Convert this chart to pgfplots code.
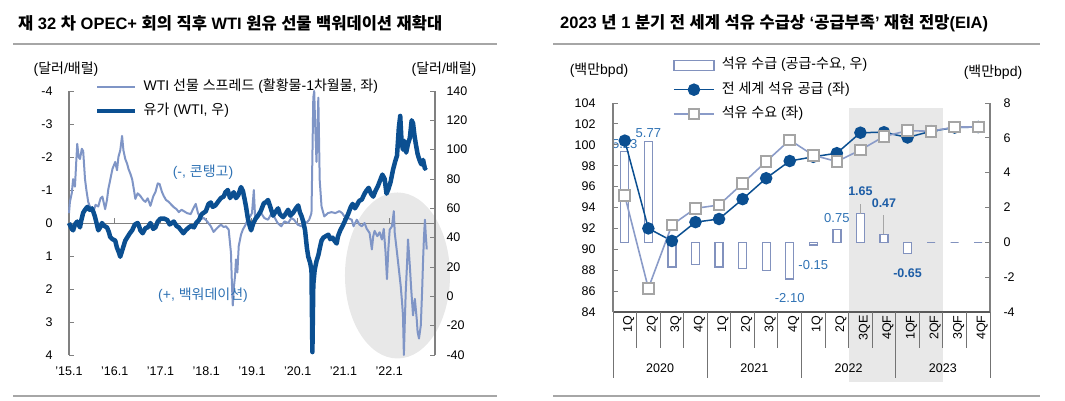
\documentclass[border=0pt]{standalone}
\usepackage{fontspec}
\setmainfont{Liberation Sans}
\newfontfamily\kr{Noto Sans CJK KR}
% Hangul syllables switch to the Korean font automatically
\XeTeXinterchartokenstate=1
\newXeTeXintercharclass\hangulclass
\count255="AC00
\loop
  \XeTeXcharclass\count255=\hangulclass
  \advance\count255 by 1
\ifnum\count255<"D7A4 \repeat
\XeTeXinterchartoks 0 \hangulclass = {\begingroup\kr}
\XeTeXinterchartoks 4095 \hangulclass = {\begingroup\kr}
\XeTeXinterchartoks \hangulclass 0 = {\endgroup}
\XeTeXinterchartoks \hangulclass 4095 = {\endgroup}
\usepackage{pgfplots}
\pgfplotsset{compat=1.18}

\definecolor{spread}{HTML}{7F95C6}
\definecolor{wti}{HTML}{0B4F91}
\definecolor{note}{HTML}{2F72B4}
\definecolor{noteb}{HTML}{1D5DA6}
\definecolor{spine}{HTML}{808080}
\definecolor{rulec}{HTML}{A6A6A6}
\definecolor{bgshade}{HTML}{E8E8E8}
\definecolor{barc}{HTML}{8292BE}
\definecolor{demandline}{HTML}{8A9BC8}
\definecolor{sqc}{HTML}{A5A5A5}

\pgfplotsset{
  base/.style={scale only axis, clip=false, anchor=south west,
    tick align=inside, major tick length=5pt,
    every tick/.style={spine, line width=1pt},
    axis line style={spine, line width=1.2pt},
    tick label style={font=\fontsize{12.5}{14}\selectfont},
    /pgf/number format/assume math mode=true},
}

\begin{document}
\begin{tikzpicture}[x=1pt,y=1pt]
\path[use as bounding box] (0,0) rectangle (1065,400);

% titles and rules
\node[anchor=west, inner sep=0pt, font=\bfseries\fontsize{16.5}{19}\selectfont] at (18,377) {재 32 차 OPEC+ 회의 직후 WTI 원유 선물 백워데이션 재확대};
\node[anchor=west, inner sep=0pt, font=\bfseries\fontsize{16.5}{19}\selectfont] at (560,377) {2023 년 1 분기 전 세계 석유 수급상 ‘공급부족’ 재현 전망(EIA)};
\draw[rulec, line width=2pt] (13,356) -- (497,356);
\draw[rulec, line width=2pt] (13,4) -- (497,4);
\draw[rulec, line width=2pt] (553,356) -- (1040,356);
\draw[rulec, line width=2pt] (553,4) -- (1040,4);

% ---------- left panel ----------
\begin{axis}[base, at={(69pt,45pt)}, width=366pt, height=264pt,
  xmin=2015, xmax=2023, ymin=-4, ymax=4, y dir=reverse,
  axis x line=none, axis y line*=left,
  ytick={-4,-3,...,4}, yticklabel style={xshift=-13pt},
  legend style={at={(axis description cs:0.071,1.04)}, anchor=north west,
    draw=none, fill=none, inner sep=0pt, row sep=11pt, column sep=6pt,
    font=\fontsize{14}{16}\selectfont,
    nodes={inner sep=0pt, text height=10pt, text depth=3pt}},
  legend cell align=left,
  legend image code/.code={\draw[#1] (0pt,0pt) -- (38pt,0pt);},
]
\fill[bgshade] (axis cs:2022.18,1.59) ellipse [x radius=52.5pt, y radius=83pt];
\draw[spine, line width=1pt] (axis cs:2015,0) -- (axis cs:2023,0);
\pgfplotsinvokeforeach{2016,2017,2018,2019,2020,2021,2022}{
  \draw[spine, line width=1pt] (axis cs:#1,0) -- ([yshift=5pt]axis cs:#1,0);}
\addplot[spread, line width=2pt, line join=round] coordinates {
(2015.00,-0.30) (2015.02,-0.64) (2015.06,-0.9) (2015.09,-1.33) (2015.13,-1.1) (2015.16,-1.9)
(2015.18,-2.4) (2015.21,-2.0) (2015.24,-1.94) (2015.28,-2.25) (2015.31,-2.18) (2015.35,-1.33)
(2015.38,-1.0) (2015.42,-0.64) (2015.47,-0.45) (2015.53,-0.33) (2015.58,-0.55) (2015.64,-0.5)
(2015.69,-0.75) (2015.73,-0.8) (2015.79,-0.42) (2015.83,-0.7) (2015.86,-1.03) (2015.90,-1.3)
(2015.95,-1.64) (2016.01,-1.85) (2016.05,-1.6) (2016.08,-2.0) (2016.12,-2.2) (2016.16,-2.64)
(2016.19,-2.2) (2016.23,-1.94) (2016.27,-1.8) (2016.30,-1.64) (2016.34,-1.5) (2016.38,-1.33)
(2016.42,-1.0) (2016.45,-0.73) (2016.50,-0.9) (2016.56,-0.82) (2016.62,-0.7) (2016.67,-0.64)
(2016.72,-0.75) (2016.78,-0.52) (2016.84,-0.8) (2016.89,-0.94) (2016.94,-1.2) (2016.98,-1.18)
(2017.03,-0.95) (2017.07,-0.82) (2017.12,-0.7) (2017.18,-0.64) (2017.24,-0.55) (2017.29,-0.48)
(2017.35,-0.42) (2017.40,-0.33) (2017.46,-0.4) (2017.51,-0.36) (2017.58,-0.3) (2017.66,-0.27)
(2017.72,-0.45) (2017.77,-0.58) (2017.82,-0.3) (2017.88,-0.12) (2017.95,-0.15) (2018.03,-0.03)
(2018.10,0.1) (2018.16,0.27) (2018.24,0.15) (2018.32,0.05) (2018.38,0.12) (2018.43,0.1)
(2018.49,0.2) (2018.54,0.9) (2018.56,1.8) (2018.58,2.5) (2018.60,2.0) (2018.63,1.6)
(2018.65,1.1) (2018.68,1.5) (2018.71,0.7) (2018.76,0.35) (2018.80,0.2) (2018.86,0.05)
(2018.91,-0.12) (2018.96,-0.2) (2019.00,-0.3) (2019.04,-1.0) (2019.07,-0.1) (2019.13,-0.25)
(2019.20,-0.3) (2019.27,-0.15) (2019.35,-0.1) (2019.41,-0.25) (2019.48,-0.2) (2019.56,0.0)
(2019.64,0.1) (2019.71,-0.05) (2019.79,0.0) (2019.86,-0.15) (2019.92,-0.1) (2020.00,0.05)
(2020.08,0.1) (2020.14,-0.05) (2020.19,0.0) (2020.25,-0.1) (2020.30,-0.3) (2020.32,-2.0)
(2020.34,-3.8) (2020.36,-4.0) (2020.38,-3.0) (2020.41,-1.85) (2020.43,-2.8) (2020.45,-3.8)
(2020.48,-1.3) (2020.52,-0.5) (2020.58,-0.2) (2020.66,-0.3) (2020.74,-0.33) (2020.82,-0.3)
(2020.91,-0.36) (2020.97,-0.3) (2021.02,-0.2) (2021.10,-0.15) (2021.18,-0.1) (2021.22,0.1)
(2021.29,-0.1) (2021.35,0.05) (2021.40,0.1) (2021.46,0.0) (2021.51,0.18) (2021.57,0.3)
(2021.62,0.8) (2021.65,0.4) (2021.68,0.24) (2021.74,0.4) (2021.79,0.28) (2021.84,0.5)
(2021.88,0.18) (2021.92,0.9) (2021.95,1.7) (2021.98,0.8) (2022.01,0.2) (2022.06,0.1)
(2022.10,-0.36) (2022.12,0.3) (2022.17,0.9) (2022.21,1.4) (2022.25,1.9) (2022.28,2.4)
(2022.30,2.8) (2022.32,4.0) (2022.34,3.0) (2022.36,2.1) (2022.39,1.2) (2022.41,0.5)
(2022.45,1.3) (2022.48,2.0) (2022.52,2.8) (2022.56,2.3) (2022.60,2.9) (2022.62,3.3)
(2022.65,3.5) (2022.69,3.1) (2022.72,2.0) (2022.74,1.1) (2022.76,0.4) (2022.78,-0.1)
(2022.80,0.4) (2022.82,0.8)};
\addlegendentry{WTI 선물 스프레드 (활황물-1차월물, 좌)}
\addlegendimage{wti, line width=4.5pt}
\addlegendentry{유가 (WTI, 우)}
\end{axis}

\begin{axis}[base, at={(69pt,45pt)}, width=366pt, height=264pt,
  xmin=2015, xmax=2023, ymin=-40, ymax=140,
  axis y line*=right, axis x line*=bottom, x axis line style={draw=none},
  xtick={2015,...,2022},
  xticklabels={'15.1,'16.1,'17.1,'18.1,'19.1,'20.1,'21.1,'22.1},
  x tick style={draw=none}, xticklabel style={yshift=-8pt},
  ytick={-40,-20,...,140}, yticklabel style={xshift=8pt},
]
\addplot[wti, line width=4.5pt, line join=round] coordinates {
(2015.00,50) (2015.03,48) (2015.06,46) (2015.09,45) (2015.13,49) (2015.18,51) (2015.21,49)
(2015.24,47) (2015.27,52) (2015.31,57) (2015.35,59) (2015.40,61) (2015.45,59) (2015.50,60)
(2015.54,57) (2015.57,54) (2015.61,49) (2015.64,45) (2015.68,47) (2015.72,50) (2015.77,48)
(2015.83,47) (2015.87,44) (2015.90,40.5) (2015.95,39) (2016.01,38) (2016.05,33) (2016.09,30)
(2016.12,27) (2016.16,31) (2016.19,34) (2016.23,38) (2016.28,40.5) (2016.33,43) (2016.38,45)
(2016.44,49) (2016.50,50) (2016.53,48) (2016.56,45) (2016.61,43) (2016.67,46.5) (2016.72,47)
(2016.78,50) (2016.84,46) (2016.89,47) (2016.94,51) (2017.00,53) (2017.08,53) (2017.15,52)
(2017.20,49) (2017.25,50) (2017.29,51) (2017.35,48) (2017.40,47) (2017.45,45) (2017.50,43)
(2017.55,45) (2017.62,47) (2017.67,48) (2017.73,47) (2017.78,50) (2017.84,52) (2017.90,56)
(2017.99,58) (2018.05,63) (2018.10,64) (2018.14,61) (2018.20,62) (2018.27,65) (2018.32,67)
(2018.38,68) (2018.42,71) (2018.47,72.5) (2018.52,67) (2018.56,69) (2018.60,71) (2018.65,67)
(2018.70,69) (2018.76,74.5) (2018.80,72) (2018.84,66) (2018.87,61) (2018.91,53) (2018.95,48)
(2018.98,45) (2019.03,50) (2019.08,53) (2019.13,55) (2019.19,58) (2019.26,63.6) (2019.30,64)
(2019.35,65.7) (2019.40,61) (2019.46,55) (2019.50,57) (2019.57,60) (2019.61,56) (2019.68,54)
(2019.73,56) (2019.79,59) (2019.84,55) (2019.90,57) (2019.96,60) (2020.01,62) (2020.05,57)
(2020.08,55) (2020.12,51) (2020.16,45) (2020.20,33) (2020.23,27) (2020.27,23) (2020.30,18)
(2020.32,-38) (2020.34,8) (2020.37,18) (2020.41,24) (2020.45,28) (2020.49,34) (2020.52,38)
(2020.56,40) (2020.61,41) (2020.67,42) (2020.71,39) (2020.76,40) (2020.80,38) (2020.85,36)
(2020.88,41) (2020.93,45) (2020.98,48) (2021.04,52) (2021.10,56) (2021.16,61) (2021.20,63)
(2021.25,60) (2021.29,62) (2021.34,65) (2021.40,66) (2021.46,70) (2021.50,72) (2021.55,74)
(2021.60,70) (2021.65,68) (2021.70,72) (2021.75,75) (2021.80,79) (2021.85,83) (2021.90,80)
(2021.94,70) (2021.98,73) (2022.03,78) (2022.08,86) (2022.13,92) (2022.17,96) (2022.21,115)
(2022.24,123) (2022.27,105) (2022.30,100) (2022.33,106) (2022.37,98) (2022.41,104)
(2022.45,108) (2022.49,120) (2022.52,118) (2022.55,110) (2022.58,104) (2022.62,97)
(2022.66,93) (2022.70,90) (2022.74,93) (2022.78,87) (2022.80,88)};
\end{axis}

\node[note, font=\fontsize{14}{16}\selectfont] at (203,228) {(-, 콘탱고)};
\node[note, font=\fontsize{14}{16}\selectfont] at (203,105) {(+, 백워데이션)};
\node[font=\fontsize{14}{16}\selectfont] at (66,331) {(달러/배럴)};
\node[font=\fontsize{14}{16}\selectfont] at (444,331) {(달러/배럴)};

% ---------- right panel ----------
\begin{axis}[base, at={(613pt,88pt)}, width=377pt, height=209pt,
  xmin=-0.5, xmax=15.5, ymin=-4, ymax=8,
  axis x line=none, axis y line*=right,
  ytick={-4,-2,...,8}, yticklabel style={xshift=10pt},
  ybar, bar width=8pt,
]
\fill[bgshade] (axis cs:9.5,7.69) rectangle (axis cs:13.5,-8.04);
\addplot[draw=barc, fill=white, line width=1.3pt] coordinates {
(0,5.23) (1,5.77) (2,-1.42) (3,-1.28) (4,-1.42) (5,-1.5) (6,-1.63) (7,-2.10)
(8,-0.15) (9,0.75) (10,1.65) (11,0.47) (12,-0.65) (13,0) (14,0) (15,0)};
\node[note, font=\fontsize{13}{15}\selectfont] at ([yshift=7pt]axis cs:0,5.23) {5.23};
\node[note, font=\fontsize{13}{15}\selectfont] at ([yshift=9pt]axis cs:1,5.77) {5.77};
\node[note, font=\fontsize{13}{15}\selectfont] at ([yshift=-19pt]axis cs:7,-2.10) {-2.10};
\node[note, font=\fontsize{13}{15}\selectfont] at ([yshift=-20pt]axis cs:8,-0.15) {-0.15};
\node[note, font=\fontsize{13}{15}\selectfont] at ([yshift=11pt]axis cs:9,0.75) {0.75};
\draw[gray!70, line width=1pt] (axis cs:10,1.65) -- ([yshift=10pt]axis cs:10,1.65);
\node[noteb, font=\bfseries\fontsize{12.5}{15}\selectfont] at ([yshift=22pt]axis cs:10,1.65) {1.65};
\draw[gray!70, line width=1pt] (axis cs:11,0.47) -- ([yshift=19pt]axis cs:11,0.47);
\node[noteb, font=\bfseries\fontsize{12.5}{15}\selectfont] at ([yshift=31pt]axis cs:11,0.47) {0.47};
\node[noteb, font=\bfseries\fontsize{12.5}{15}\selectfont] at ([yshift=-20pt]axis cs:12,-0.65) {-0.65};
\end{axis}

\begin{axis}[base, at={(613pt,88pt)}, width=377pt, height=209pt,
  xmin=-0.5, xmax=15.5, ymin=84, ymax=104,
  axis y line*=left, axis x line*=bottom,
  x axis line style={black!65, line width=1.2pt},
  xtick={0,...,15},
  xticklabels={1Q,2Q,3Q,4Q,1Q,2Q,3Q,4Q,1Q,2Q,3QE,4QF,1QF,2QF,3QF,4QF},
  x tick style={draw=none},
  xticklabel style={rotate=90, anchor=east, yshift=-4pt},
  ytick={84,86,...,104}, yticklabel style={xshift=-14pt},
  legend style={at={(axis description cs:0.159,1.213)}, anchor=north west,
    draw=none, fill=none, inner sep=0pt, row sep=11.5pt, column sep=7pt,
    font=\fontsize{14}{16}\selectfont,
    nodes={inner sep=0pt, text height=10pt, text depth=3pt}},
  legend cell align=left,
  legend image code/.code={\draw[#1, mark indices={2}] plot coordinates {(0pt,0pt) (20pt,0pt) (40pt,0pt)};},
]
\pgfplotsinvokeforeach{0.5,1.5,2.5,4.5,5.5,6.5,8.5,9.5,10.5,12.5,13.5,14.5}{
  \draw[black!55, line width=1pt] (axis cs:#1,84) -- ([yshift=-36pt]axis cs:#1,84);}
\pgfplotsinvokeforeach{-0.5,3.5,7.5,11.5,15.5}{
  \draw[black!55, line width=1pt] (axis cs:#1,84) -- ([yshift=-66pt]axis cs:#1,84);}
\node[font=\fontsize{12.5}{14}\selectfont] at ([yshift=-56pt]axis cs:1.5,84) {2020};
\node[font=\fontsize{12.5}{14}\selectfont] at ([yshift=-56pt]axis cs:5.5,84) {2021};
\node[font=\fontsize{12.5}{14}\selectfont] at ([yshift=-56pt]axis cs:9.5,84) {2022};
\node[font=\fontsize{12.5}{14}\selectfont] at ([yshift=-56pt]axis cs:13.5,84) {2023};
\addlegendimage{legend image code/.code={\draw[barc, line width=1.3pt, fill=white] (0pt,-5pt) rectangle (40pt,5pt);}}
\addlegendentry{석유 수급 (공급-수요, 우)}
\addplot[wti, line width=1.5pt, mark=*, mark size=5.5pt, mark options={fill=wti, draw=wti}] coordinates {
(0,100.4) (1,92.0) (2,90.8) (3,92.6) (4,92.9) (5,94.8) (6,96.8) (7,98.45)
(8,98.85) (9,99.2) (10,101.16) (11,101.2) (12,100.7) (13,101.3) (14,101.65) (15,101.7)};
\addlegendentry{전 세계 석유 공급 (좌)}
\addplot[demandline, line width=1.6pt, mark=square*, mark size=5.3pt, mark options={fill=white, draw=sqc, line width=2pt}] coordinates {
(0,95.13) (1,86.27) (2,92.33) (3,93.92) (4,94.24) (5,96.3) (6,98.4) (7,100.46)
(8,99.0) (9,98.4) (10,99.5) (11,100.8) (12,101.35) (13,101.3) (14,101.7) (15,101.7)};
\addlegendentry{석유 수요 (좌)}
\end{axis}

\node[font=\fontsize{14}{16}\selectfont] at (599,330) {(백만bpd)};
\node[font=\fontsize{14}{16}\selectfont] at (993,328) {(백만bpd)};
\end{tikzpicture}
\end{document}
